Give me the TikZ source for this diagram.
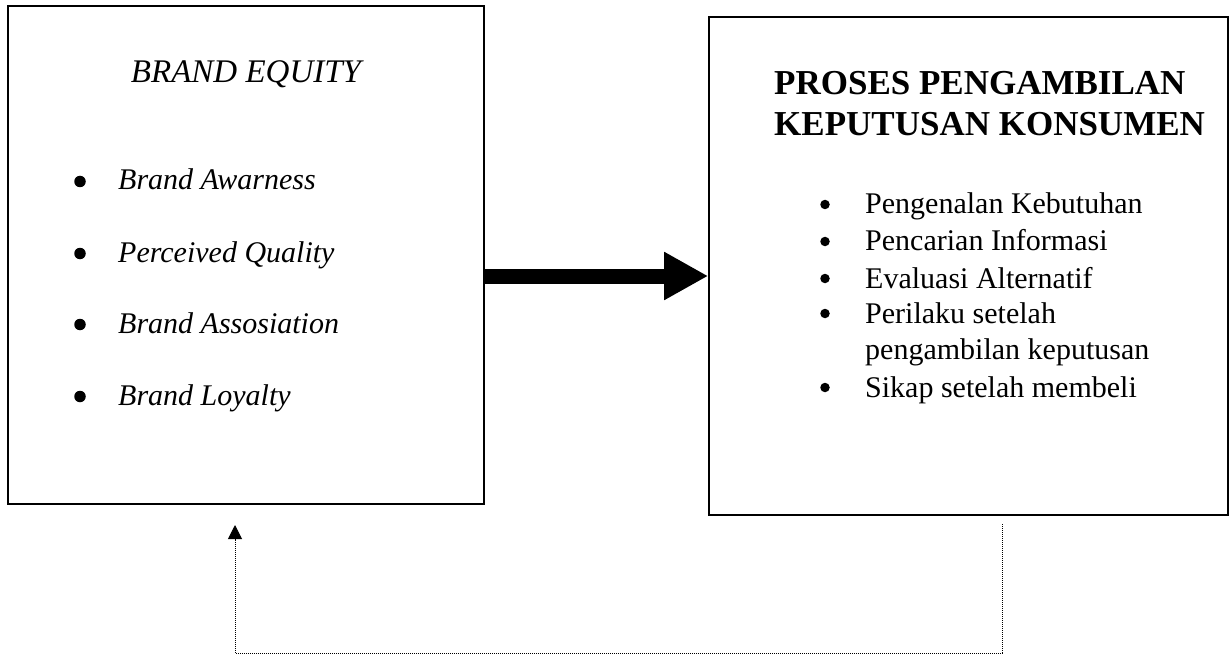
\documentclass[tikz,border=0pt]{standalone}
\usepackage{fontspec}
\setmainfont{Liberation Serif}
\usetikzlibrary{arrows.meta}
\begin{document}
\begin{tikzpicture}[x=1pt,y=-1pt,
  box/.style={draw, line width=1.6pt, inner sep=0pt},
  ltitle/.style={inner sep=0pt, font=\fontsize{33}{40}\selectfont\itshape},
  rtitle/.style={inner sep=0pt, font=\fontsize{35}{41}\selectfont\bfseries},
  litem/.style={inner sep=0pt, anchor=base west, font=\fontsize{30}{36}\selectfont\itshape},
  ritem/.style={inner sep=0pt, anchor=base west, font=\fontsize{30}{36}\selectfont},
  lbul/.style={circle, fill, inner sep=0pt, minimum size=11.5pt},
  rbul/.style={circle, fill, inner sep=0pt, minimum size=9.5pt},
  bigarrow/.style={line width=15pt, -{Triangle[length=44pt,width=45pt]}},
  feedback/.style={line width=1pt, dash pattern=on 1pt off 1pt, -{Triangle[length=14pt,width=14pt]}}
]
\useasboundingbox (0,0) rectangle (1230,660);
% boxes
\node[box, minimum width=476pt, minimum height=498pt] (lbox) at (246,255) {};
\node[box, minimum width=519pt, minimum height=498pt] (rbox) at (968.5,266) {};
% left box text
\node[ltitle, anchor=base] (lt) at (246,83) {BRAND EQUITY};
\node[lbul] (lb1) at (80,181.5) {};
\node[litem] (l1) at (118,190) {Brand Awarness};
\node[lbul] (lb2) at (80,253.5) {};
\node[litem] (l2) at (118,262) {Perceived Quality};
\node[lbul] (lb3) at (80,324.5) {};
\node[litem] (l3) at (118,333) {Brand Assosiation};
\node[lbul] (lb4) at (80,396.5) {};
\node[litem] (l4) at (118,405) {Brand Loyalty};
% right box text
\node[rtitle, anchor=base west] (rt1) at (774,95) {PROSES PENGAMBILAN};
\node[rtitle, anchor=base west] (rt2) at (774,136) {KEPUTUSAN KONSUMEN};
\node[rbul] (rb1) at (825,204.5) {};
\node[ritem] (r1) at (865,214) {Pengenalan Kebutuhan};
\node[rbul] (rb2) at (825,241.5) {};
\node[ritem] (r2) at (865,251) {Pencarian Informasi};
\node[rbul] (rb3) at (825,278.5) {};
\node[ritem] (r3) at (865,288) {Evaluasi Alternatif};
\node[rbul] (rb4) at (825,313.5) {};
\node[ritem] (r4) at (865,323) {Perilaku setelah};
\node[ritem] (r4b) at (865,359) {pengambilan keputusan};
\node[rbul] (rb5) at (825,387.5) {};
\node[ritem] (r5) at (865,397) {Sikap setelah membeli};
% main arrow
\coordinate (ay) at (0,276);
\draw[bigarrow] (lbox.east |- ay) -- (rbox.west |- ay);
% feedback arrow
\coordinate (fstart) at (1002,524);
\coordinate (fcornerR) at (1002,653);
\coordinate (fcornerL) at (235,653);
\coordinate (fend) at (235,525);
\draw[feedback] (fstart) -- (fcornerR) -- (fcornerL) -- (fend);
\end{tikzpicture}
\end{document}
